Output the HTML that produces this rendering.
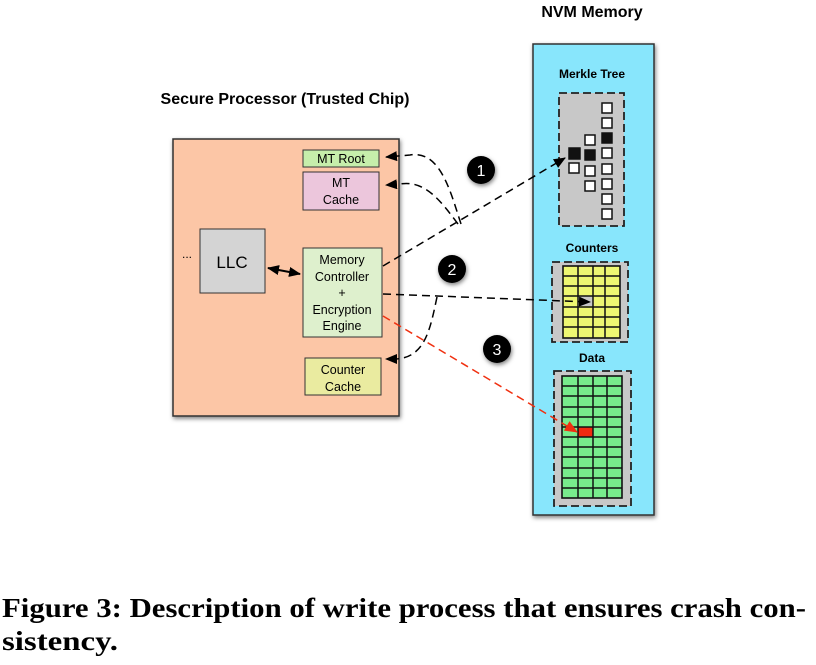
<!DOCTYPE html>
<html><head><meta charset="utf-8"><style>
html,body{margin:0;padding:0;background:#fff;width:816px;height:665px;overflow:hidden}
svg text{font-family:"Liberation Sans",sans-serif}
</style></head><body>
<svg width="816" height="665" viewBox="0 0 816 665" xmlns="http://www.w3.org/2000/svg">
<defs>
<marker id="ah" markerWidth="12" markerHeight="10" refX="11" refY="5" orient="auto-start-reverse" markerUnits="userSpaceOnUse"><path d="M0,0 L12,5 L0,10 z" fill="#000"/></marker>
<marker id="ahr" markerWidth="13" markerHeight="11" refX="12" refY="5.5" orient="auto" markerUnits="userSpaceOnUse"><path d="M0,0 L13,5.5 L0,11 z" fill="#f03010"/></marker>
<filter id="sh" x="-50%" y="-50%" width="200%" height="200%"><feDropShadow dx="1" dy="2" stdDeviation="2" flood-color="#000" flood-opacity="0.5"/></filter>
</defs>
<text x="285" y="104" font-size="16" font-weight="bold" text-anchor="middle">Secure Processor (Trusted Chip)</text>
<text x="592" y="17" font-size="16" font-weight="bold" text-anchor="middle">NVM Memory</text>

<rect x="173" y="139" width="226" height="277" fill="#fcc6a6" stroke="#333" stroke-width="1.5" filter="url(#sh)"/>
<rect x="303" y="150" width="76" height="17" fill="#c6eeab" stroke="#333"/>
<text x="341" y="163" font-size="12.5" text-anchor="middle">MT Root</text>
<rect x="303" y="172" width="76" height="38" fill="#ecc6dc" stroke="#333"/>
<text x="341" y="187" font-size="12.5" text-anchor="middle">MT</text>
<text x="341" y="204" font-size="12.5" text-anchor="middle">Cache</text>
<rect x="200" y="229" width="65" height="64" fill="#d4d4d4" stroke="#333"/>
<text x="232" y="268" font-size="17" text-anchor="middle">LLC</text>
<text x="187" y="258" font-size="12" text-anchor="middle">...</text>
<rect x="303" y="248" width="79" height="89" fill="#def0cd" stroke="#333"/>
<text x="342" y="264" font-size="12.5" text-anchor="middle">Memory</text>
<text x="342" y="281" font-size="12.5" text-anchor="middle">Controller</text>
<text x="342" y="297" font-size="12.5" text-anchor="middle">+</text>
<text x="342" y="314" font-size="12.5" text-anchor="middle">Encryption</text>
<text x="342" y="330" font-size="12.5" text-anchor="middle">Engine</text>
<rect x="305" y="358" width="76" height="37" fill="#eaeba0" stroke="#333"/>
<text x="343" y="374" font-size="12.5" text-anchor="middle">Counter</text>
<text x="343" y="391" font-size="12.5" text-anchor="middle">Cache</text>
<line x1="268" y1="268" x2="300" y2="274" stroke="#000" stroke-width="2" marker-start="url(#ah)" marker-end="url(#ah)"/>

<rect x="533" y="44" width="121" height="471" fill="#88e6fc" stroke="#333" stroke-width="1.5" filter="url(#sh)"/>
<text x="592" y="78" font-size="12" font-weight="bold" text-anchor="middle">Merkle Tree</text>
<rect x="559" y="93" width="65" height="133" fill="#c8c8c8" stroke="#222" stroke-width="1.8" stroke-dasharray="8,4"/>
<g stroke="#111" stroke-width="1.5" fill="#fff">
<rect x="602" y="103" width="10" height="10"/><rect x="602" y="118" width="10" height="10"/>
<rect x="602" y="133" width="10" height="10" fill="#111"/><rect x="602" y="148" width="10" height="10"/>
<rect x="602" y="164" width="10" height="10"/><rect x="602" y="179" width="10" height="10"/>
<rect x="602" y="194" width="10" height="10"/><rect x="602" y="209" width="10" height="10"/>
<rect x="585" y="135" width="10" height="10"/><rect x="585" y="150" width="10" height="10" fill="#111"/>
<rect x="585" y="166" width="10" height="10"/><rect x="585" y="181" width="10" height="10"/>
<rect x="569" y="148" width="11" height="11" fill="#111"/><rect x="569" y="163" width="10" height="10"/>
</g>

<text x="592" y="252" font-size="12" font-weight="bold" text-anchor="middle">Counters</text>
<rect x="552" y="262" width="76" height="80" fill="#c8c8c8" stroke="#222" stroke-width="1.8" stroke-dasharray="8,4"/>
<rect x="563" y="266" width="57" height="72" fill="#eef772" stroke="#111" stroke-width="1.6"/>
<rect x="578" y="296" width="15" height="10" fill="#c8c8c8"/>
<g stroke="#111" stroke-width="1.5">
<line x1="578" y1="266" x2="578" y2="338"/><line x1="593" y1="266" x2="593" y2="338"/><line x1="605" y1="266" x2="605" y2="338"/>
<line x1="563" y1="276" x2="620" y2="276"/><line x1="563" y1="286" x2="620" y2="286"/><line x1="563" y1="296" x2="620" y2="296"/>
<line x1="563" y1="307" x2="620" y2="307"/><line x1="563" y1="317" x2="620" y2="317"/><line x1="563" y1="327" x2="620" y2="327"/>
</g>

<text x="592" y="362" font-size="12" font-weight="bold" text-anchor="middle">Data</text>
<rect x="554" y="371" width="77" height="135" fill="#c8c8c8" stroke="#222" stroke-width="1.8" stroke-dasharray="8,4"/>
<rect x="562" y="376" width="60" height="122" fill="#78ec8c" stroke="#111" stroke-width="1.6"/>
<rect x="578" y="427" width="15" height="10" fill="#f02a10"/>
<g stroke="#111" stroke-width="1.5">
<line x1="578" y1="376" x2="578" y2="498"/><line x1="593" y1="376" x2="593" y2="498"/><line x1="607" y1="376" x2="607" y2="498"/>
<line x1="562" y1="386" x2="622" y2="386"/><line x1="562" y1="396" x2="622" y2="396"/><line x1="562" y1="407" x2="622" y2="407"/>
<line x1="562" y1="417" x2="622" y2="417"/><line x1="562" y1="427" x2="622" y2="427"/><line x1="562" y1="437" x2="622" y2="437"/>
<line x1="562" y1="447" x2="622" y2="447"/><line x1="562" y1="457" x2="622" y2="457"/><line x1="562" y1="468" x2="622" y2="468"/>
<line x1="562" y1="478" x2="622" y2="478"/><line x1="562" y1="488" x2="622" y2="488"/>
</g>

<g fill="none" stroke="#000" stroke-width="1.5" stroke-dasharray="8,5">
<line x1="383" y1="266" x2="565" y2="158" marker-end="url(#ah)"/>
<path d="M461,224 C450,190 440,150 410,155 L386,157" marker-end="url(#ah)"/>
<path d="M458,224 C440,200 425,180 400,184 L386,185" marker-end="url(#ah)"/>
<path d="M383,294 L437,296 L590,302" marker-end="url(#ah)"/>
<path d="M437,297 C430,330 425,358 395,359 L386,359" marker-end="url(#ah)"/>
</g>
<line x1="383" y1="316" x2="577" y2="432" stroke="#f03010" stroke-width="1.5" stroke-dasharray="8,5" marker-end="url(#ahr)"/>

<g filter="url(#sh)">
<circle cx="481" cy="170" r="14" fill="#000"/>
<circle cx="452" cy="269" r="14" fill="#000"/>
<circle cx="497" cy="349" r="14" fill="#000"/>
</g>
<text x="481" y="176" font-size="16" fill="#fff" text-anchor="middle">1</text>
<text x="452" y="275" font-size="16" fill="#fff" text-anchor="middle">2</text>
<text x="497" y="355" font-size="16" fill="#fff" text-anchor="middle">3</text>

<text x="2" y="617" font-size="27" font-weight="bold" textLength="804" lengthAdjust="spacingAndGlyphs" style="font-family:'Liberation Serif',serif">Figure 3: Description of write process that ensures crash con-</text>
<text x="2" y="650" font-size="27" font-weight="bold" textLength="116" lengthAdjust="spacingAndGlyphs" style="font-family:'Liberation Serif',serif">sistency.</text>
</svg>
</body></html>
